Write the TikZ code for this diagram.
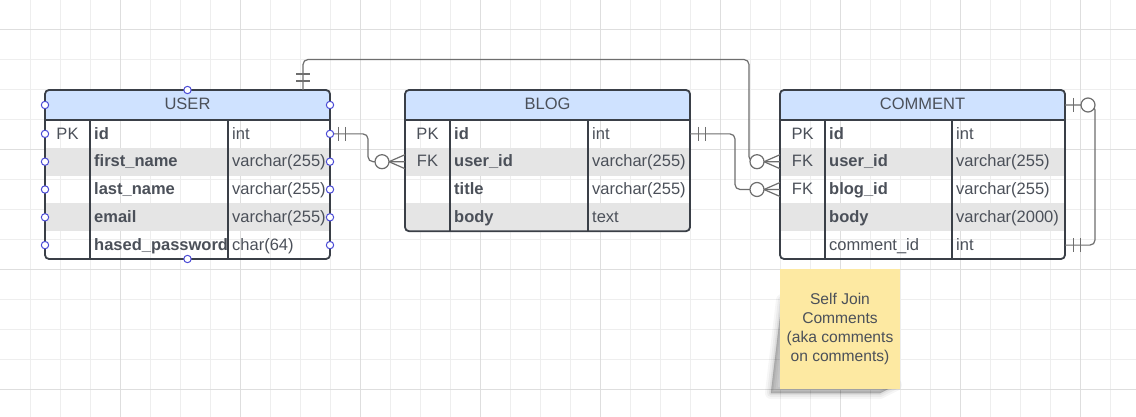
\documentclass[tikz,border=0pt]{standalone}
\usepackage{fontspec}
\setmainfont{Liberation Sans}
\usetikzlibrary{calc}
\definecolor{hdrblue}{HTML}{CFE2FF}
\definecolor{stripe}{HTML}{E5E5E5}
\definecolor{frame}{HTML}{3A3F47}
\definecolor{txt}{HTML}{4B5059}
\definecolor{connc}{HTML}{6E6E6E}
\definecolor{gridl}{HTML}{EEEEEE}
\definecolor{gridd}{HTML}{DEDEDE}
\definecolor{dotblue}{HTML}{4A4AD6}
\definecolor{notey}{HTML}{FDE9A2}
\tikzset{
  tblframe/.style={draw=frame,line width=1.8pt,rounded corners=4pt,inner sep=0pt,outer sep=0pt},
  tblline/.style={draw=frame,line width=1.8pt},
  keytxt/.style={anchor=base,inner sep=0pt,text=txt,font=\fontsize{16.5}{19}\selectfont},
  fldtxt/.style={anchor=base west,inner sep=0pt,text=txt,font=\fontsize{16.5}{19}\selectfont},
  hdrtxt/.style={anchor=base,inner sep=0pt,text=txt,font=\fontsize{16.5}{19}\selectfont},
  conn/.style={draw=connc,line width=1.2pt},
  cdot/.style={draw=dotblue,line width=1pt,fill=white},
  sticky/.style={fill=notey,minimum width=120pt,minimum height=120pt,align=center,
    text=txt,font=\fontsize{15.6}{19}\selectfont,inner sep=0pt},
  shadowlayer/.style={fill=black,draw=black,line join=round,opacity=#1},
}
% row: #1 name, #2 x0, #3 x1, #4 x2, #5 y centre, #6 key, #7 field, #8 type
\newcommand\errow[8]{%
  \node[keytxt] (#1-k) at ({(#2+#3)/2},{#5+5.3}) {#6};
  \node[fldtxt] (#1-f) at ({#3+4},{#5+5.3}) {#7};
  \node[fldtxt] (#1-t) at ({#4+4},{#5+5.3}) {#8};
}
% crow's foot (zero or many) entering a west side point
\newcommand\crowmany[1]{%
  \draw[conn,fill=white] ($(#1)+(-23,0)$) circle[radius=7pt];
  \draw[conn] ($(#1)+(-16,0)$) -- ($(#1)+(0,-7)$)
              ($(#1)+(-16,0)$) -- ($(#1)+(0,7)$);
}
\newcommand\onebarsE[1]{%
  \draw[conn] ($(#1)+(8.3,-7)$) -- ++(0,14) ($(#1)+(15.7,-7)$) -- ++(0,14);
}
\begin{document}
\begin{tikzpicture}[x=1pt,y=-1pt]
\useasboundingbox (0,0) rectangle (1136,417);
\fill[white] (0,0) rectangle (1136,417);
% grid
\foreach \x in {30.5,60.5,...,1110.5} \draw[gridl,line width=1pt] (\x,0) -- (\x,417);
\foreach \y in {29.3,59.3,...,389.3} \draw[gridl,line width=1pt] (0,\y) -- (1136,\y);
\foreach \x in {120.5,240.5,...,1080.5} \draw[gridd,line width=1pt] (\x,0) -- (\x,417);
\foreach \y in {29.3,149.3,...,389.3} \draw[gridd,line width=1pt] (0,\y) -- (1136,\y);

% ================= USER =================
\begin{scope}
\clip[rounded corners=4pt] (45,90) rectangle (330,259);
\fill[hdrblue] (45,90) rectangle (330,120);
\fill[stripe] (45,147.8) rectangle (330,175.6);
\fill[stripe] (45,203.4) rectangle (330,231.2);
\end{scope}
\node[tblframe,minimum width=285pt,minimum height=169pt] (user) at (187.5,174.5) {};
\draw[tblline] (45,120) -- (330,120) (90,120) -- (90,259) (228,120) -- (228,259);
\node[hdrtxt] (user-h) at (187.5,110) {USER};
\errow{u1}{45}{90}{228}{133.9}{PK}{\textbf{id}}{int}
\errow{u2}{45}{90}{228}{161.7}{}{\textbf{first\_name}}{varchar(255)}
\errow{u3}{45}{90}{228}{189.5}{}{\textbf{last\_name}}{varchar(255)}
\errow{u4}{45}{90}{228}{217.3}{}{\textbf{email}}{varchar(255)}
\errow{u5}{45}{90}{228}{245.1}{}{\textbf{hased\_password}}{char(64)}

% ================= BLOG =================
\begin{scope}
\clip[rounded corners=4pt] (405,90) rectangle (690,231.2);
\fill[hdrblue] (405,90) rectangle (690,120);
\fill[stripe] (405,147.8) rectangle (690,175.6);
\fill[stripe] (405,203.4) rectangle (690,231.2);
\end{scope}
\node[tblframe,minimum width=285pt,minimum height=141.2pt] (blog) at (547.5,160.6) {};
\draw[tblline] (405,120) -- (690,120) (450,120) -- (450,231.2) (588,120) -- (588,231.2);
\node[hdrtxt] (blog-h) at (547.5,110) {BLOG};
\errow{b1}{405}{450}{588}{133.9}{PK}{\textbf{id}}{int}
\errow{b2}{405}{450}{588}{161.7}{FK}{\textbf{user\_id}}{varchar(255)}
\errow{b3}{405}{450}{588}{189.5}{}{\textbf{title}}{varchar(255)}
\errow{b4}{405}{450}{588}{217.3}{}{\textbf{body}}{text}

% ================= COMMENT =================
\begin{scope}
\clip[rounded corners=4pt] (780,90) rectangle (1065,259);
\fill[hdrblue] (780,90) rectangle (1065,120);
\fill[stripe] (780,147.8) rectangle (1065,175.6);
\fill[stripe] (780,203.4) rectangle (1065,231.2);
\end{scope}
\node[tblframe,minimum width=285pt,minimum height=169pt] (comment) at (922.5,174.5) {};
\draw[tblline] (780,120) -- (1065,120) (825,120) -- (825,259) (952,120) -- (952,259);
\node[hdrtxt] (comment-h) at (922.5,110) {COMMENT};
\errow{c1}{780}{825}{952}{133.9}{PK}{\textbf{id}}{int}
\errow{c2}{780}{825}{952}{161.7}{FK}{\textbf{user\_id}}{varchar(255)}
\errow{c3}{780}{825}{952}{189.5}{FK}{\textbf{blog\_id}}{varchar(255)}
\errow{c4}{780}{825}{952}{217.3}{}{\textbf{body}}{varchar(2000)}
\errow{c5}{780}{825}{952}{245.1}{}{comment\_id}{int}

% ================= anchor points =================
\coordinate (uE1) at (330,133.9);
\coordinate (uTop) at (303,90);
\coordinate (bW2) at (405,161.7);
\coordinate (bE1) at (690,133.9);
\coordinate (cW2) at (780,161.7);
\coordinate (cW3) at (780,189.5);
\coordinate (cEh) at (1065,105);
\coordinate (cE5) at (1065,245.1);

% USER.id -> BLOG.user_id
\draw[conn,rounded corners=5pt] (uE1) -- ++(38,0) |- (bW2);
\onebarsE{uE1}
\crowmany{bW2}

% USER (top) -> COMMENT.user_id
\draw[conn,rounded corners=5pt] (uTop) -- (303,59.5) -- (749,59.5) |- (cW2);
\draw[conn] ($(uTop)+(-7,-16)$) -- ++(14,0) ($(uTop)+(-7,-9)$) -- ++(14,0);
\crowmany{cW2}

% BLOG.id -> COMMENT.blog_id
\draw[conn,rounded corners=5pt] (bE1) -- ++(45,0) |- (cW3);
\onebarsE{bE1}
\crowmany{cW3}

% COMMENT self join
\draw[conn,rounded corners=5pt] (cEh) -- ++(30,0) |- (cE5);
\draw[conn] ($(cEh)+(8.3,-7)$) -- ++(0,14);
\draw[conn,fill=white] ($(cEh)+(23,0)$) circle[radius=7pt];
\onebarsE{cE5}

% connection points on USER
\foreach \yy in {105,133.9,161.7,189.5,217.3,245.1} {
  \draw[cdot] (45,\yy) circle[radius=3.7pt];
  \draw[cdot] (330,\yy) circle[radius=3.7pt];
}
\draw[cdot] (187.5,90) circle[radius=3.7pt];
\draw[cdot] (187.5,259) circle[radius=3.7pt];

% sticky note shadow (curled, bottom-left)
\foreach \w/\o in {12/0.035,8/0.045,4/0.06,1/0.08}
  \draw[shadowlayer=\o,line width=\w pt] (782,300) -- (771,393) -- (880,393) -- (896,385) -- cycle;
% sticky note
\node[sticky] (note) at (840,329.3) {Self Join\\Comments\\(aka comments\\on comments)};
\end{tikzpicture}
\end{document}
